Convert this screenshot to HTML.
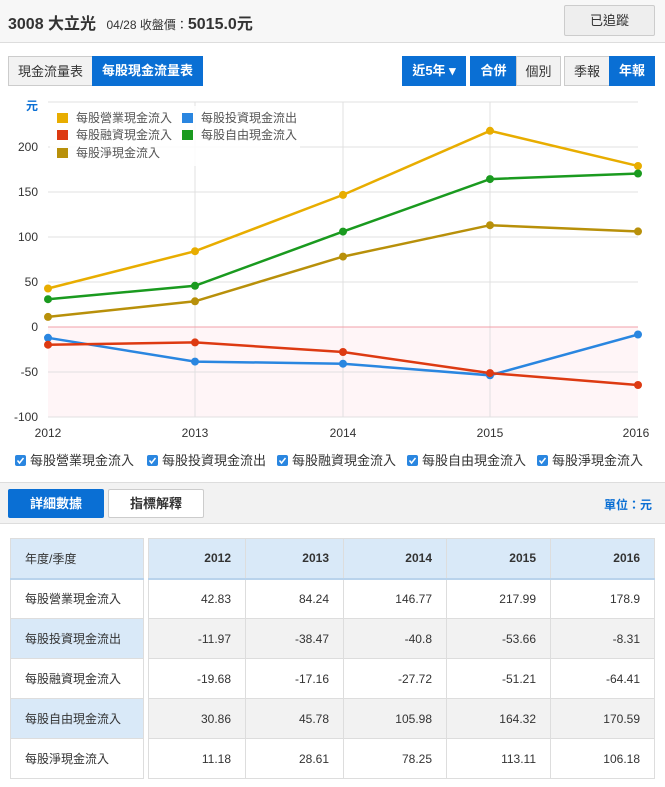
<!DOCTYPE html>
<html><head><meta charset="utf-8"><style>
*{margin:0;padding:0;box-sizing:border-box}
body{width:665px;height:787px;background:#fff;font-family:"Liberation Sans","Noto Sans CJK TC",sans-serif;color:#333;position:relative;overflow:hidden}
.a{position:absolute}
.btn{position:absolute;font-size:13px;text-align:center;line-height:29px;font-weight:bold}
.bl{background:#0a6fd4;color:#fff}
.gr{background:#f2f2f2;color:#333;border:1px solid #ccc}
table{position:absolute;border-collapse:collapse;font-size:12px}
td{border:1px solid #ddd;height:40px;text-align:right;padding-right:14px}
</style></head><body>
<div class="a" style="left:0;top:0;width:665px;height:43px;background:#f7f7f7;border-bottom:1px solid #ddd"></div>
<div class="a" style="left:8px;top:10px;font-size:16px;font-weight:bold;color:#333">3008 大立光 <span style="font-size:12px;font-weight:normal;margin-left:6px">04/28 收盤價：</span><span style="font-size:16px">5015.0元</span></div>
<div class="btn" style="left:564px;top:5px;width:91px;height:31px;background:#eee;border:1px solid #ccc;border-radius:2px;font-weight:normal;color:#333">已追蹤</div>
<div class="btn gr" style="left:8px;top:56px;width:85px;height:30px;font-weight:normal">現金流量表</div>
<div class="btn bl" style="left:92px;top:56px;width:111px;height:30px">每股現金流量表</div>
<div class="btn bl" style="left:402px;top:56px;width:64px;height:30px">近5年 ▾</div>
<div class="btn bl" style="left:470px;top:56px;width:47px;height:30px">合併</div>
<div class="btn gr" style="left:516px;top:56px;width:45px;height:30px;font-weight:normal">個別</div>
<div class="btn gr" style="left:564px;top:56px;width:46px;height:30px;font-weight:normal">季報</div>
<div class="btn bl" style="left:609px;top:56px;width:46px;height:30px">年報</div>
<svg class="a" style="left:0;top:0" width="665" height="480" font-family="Liberation Sans, Noto Sans CJK TC, sans-serif">
<rect x="48" y="327" width="590" height="90" fill="#fff5f7"/>
<g stroke="#e0e0e0" stroke-width="1">
<line x1="48" y1="102" x2="638" y2="102"/><line x1="48" y1="147" x2="638" y2="147"/><line x1="48" y1="192" x2="638" y2="192"/><line x1="48" y1="237" x2="638" y2="237"/><line x1="48" y1="282" x2="638" y2="282"/><line x1="48" y1="372" x2="638" y2="372"/><line x1="48" y1="417" x2="638" y2="417"/>
<line x1="195" y1="102" x2="195" y2="417"/><line x1="343" y1="102" x2="343" y2="417"/><line x1="490" y1="102" x2="490" y2="417"/>
</g>
<line x1="48" y1="327" x2="638" y2="327" stroke="#f0a0a8"/>
<g font-size="12" fill="#333" text-anchor="end">
<text x="38" y="151">200</text><text x="38" y="196">150</text><text x="38" y="241">100</text><text x="38" y="286">50</text><text x="38" y="331">0</text><text x="38" y="376">-50</text><text x="38" y="421">-100</text></g>
<text x="26" y="110" font-size="12" fill="#0a6fd4" font-weight="bold">元</text>
<g font-size="12" fill="#333" text-anchor="middle"><text x="48" y="437">2012</text><text x="195" y="437">2013</text><text x="343" y="437">2014</text><text x="490" y="437">2015</text><text x="636" y="437">2016</text></g>
<g fill="none" stroke-width="2.5">
<polyline stroke="#e8ad00" points="48,288.5 195,251.2 343,194.9 490,130.8 638,166"/>
<polyline stroke="#2a86e0" points="48,337.8 195,361.6 343,363.7 490,375.3 638,334.5"/>
<polyline stroke="#dd3a12" points="48,344.7 195,342.4 343,352 490,373.1 638,385"/>
<polyline stroke="#1a9a1f" points="48,299.2 195,285.8 343,231.6 490,179.1 638,173.5"/>
<polyline stroke="#b8900a" points="48,316.9 195,301.3 343,256.6 490,225.2 638,231.4"/>
</g>
<g fill="#e8ad00"><circle cx="48" cy="288.5" r="4"/><circle cx="195" cy="251.2" r="4"/><circle cx="343" cy="194.9" r="4"/><circle cx="490" cy="130.8" r="4"/><circle cx="638" cy="166" r="4"/></g>
<g fill="#2a86e0"><circle cx="48" cy="337.8" r="4"/><circle cx="195" cy="361.6" r="4"/><circle cx="343" cy="363.7" r="4"/><circle cx="490" cy="375.3" r="4"/><circle cx="638" cy="334.5" r="4"/></g>
<g fill="#dd3a12"><circle cx="48" cy="344.7" r="4"/><circle cx="195" cy="342.4" r="4"/><circle cx="343" cy="352" r="4"/><circle cx="490" cy="373.1" r="4"/><circle cx="638" cy="385" r="4"/></g>
<g fill="#1a9a1f"><circle cx="48" cy="299.2" r="4"/><circle cx="195" cy="285.8" r="4"/><circle cx="343" cy="231.6" r="4"/><circle cx="490" cy="179.1" r="4"/><circle cx="638" cy="173.5" r="4"/></g>
<g fill="#b8900a"><circle cx="48" cy="316.9" r="4"/><circle cx="195" cy="301.3" r="4"/><circle cx="343" cy="256.6" r="4"/><circle cx="490" cy="225.2" r="4"/><circle cx="638" cy="231.4" r="4"/></g>
<rect x="50" y="106" width="250" height="60" fill="#fff" opacity="0.85"/>
<g font-size="12" fill="#555">
<rect x="57" y="113" width="11" height="10" fill="#e8ad00"/><text x="76" y="122">每股營業現金流入</text>
<rect x="182" y="113" width="11" height="10" fill="#2a86e0"/><text x="201" y="122">每股投資現金流出</text>
<rect x="57" y="130" width="11" height="10" fill="#dd3a12"/><text x="76" y="139">每股融資現金流入</text>
<rect x="182" y="130" width="11" height="10" fill="#1a9a1f"/><text x="201" y="139">每股自由現金流入</text>
<rect x="57" y="148" width="11" height="10" fill="#b8900a"/><text x="76" y="157">每股淨現金流入</text>
</g>
<g font-size="13" fill="#333">
<rect x="15" y="455" width="11" height="11" rx="2" fill="#2a86e0"/><text x="30" y="465">每股營業現金流入</text>
<rect x="147" y="455" width="11" height="11" rx="2" fill="#2a86e0"/><text x="162" y="465">每股投資現金流出</text>
<rect x="277" y="455" width="11" height="11" rx="2" fill="#2a86e0"/><text x="292" y="465">每股融資現金流入</text>
<rect x="407" y="455" width="11" height="11" rx="2" fill="#2a86e0"/><text x="422" y="465">每股自由現金流入</text>
<rect x="537" y="455" width="11" height="11" rx="2" fill="#2a86e0"/><text x="552" y="465">每股淨現金流入</text>
</g>
<g stroke="#fff" stroke-width="1.5" fill="none"><polyline points="17.5,460.5 19.5,463 23.5,458"/><polyline points="149.5,460.5 151.5,463 155.5,458"/><polyline points="279.5,460.5 281.5,463 285.5,458"/><polyline points="409.5,460.5 411.5,463 415.5,458"/><polyline points="539.5,460.5 541.5,463 545.5,458"/></g>
</svg>
<div class="a" style="left:0;top:482px;width:665px;height:42px;background:#f2f2f2;border-top:1px solid #ddd;border-bottom:1px solid #ddd"></div>
<div class="btn bl" style="left:8px;top:489px;width:96px;height:29px;border-radius:2px">詳細數據</div>
<div class="btn" style="left:108px;top:489px;width:96px;height:29px;background:#fff;border:1px solid #ccc;border-radius:2px;color:#333;line-height:27px">指標解釋</div>
<div class="a" style="left:604px;top:496px;font-size:12px;color:#0a6fd4;font-weight:bold">單位：元</div>
<table style="left:10px;top:538px;width:134px">
<tr><td style="background:#d9e9f8;text-align:left;padding-left:14px;border-bottom:2px solid #b9d3ec">年度/季度</td></tr>
<tr><td style="text-align:left;padding-left:14px">每股營業現金流入</td></tr>
<tr><td style="background:#d9e9f8;text-align:left;padding-left:14px">每股投資現金流出</td></tr>
<tr><td style="text-align:left;padding-left:14px">每股融資現金流入</td></tr>
<tr><td style="background:#d9e9f8;text-align:left;padding-left:14px">每股自由現金流入</td></tr>
<tr><td style="text-align:left;padding-left:14px">每股淨現金流入</td></tr>
</table>
<table style="left:148px;top:538px;width:507px">
<tr style="background:#d9e9f8;font-weight:bold"><td style="width:97px;border-bottom:2px solid #b9d3ec">2012</td><td style="width:98px;border-bottom:2px solid #b9d3ec">2013</td><td style="width:103px;border-bottom:2px solid #b9d3ec">2014</td><td style="width:104px;border-bottom:2px solid #b9d3ec">2015</td><td style="border-bottom:2px solid #b9d3ec">2016</td></tr>
<tr><td>42.83</td><td>84.24</td><td>146.77</td><td>217.99</td><td>178.9</td></tr>
<tr style="background:#f2f2f2"><td>-11.97</td><td>-38.47</td><td>-40.8</td><td>-53.66</td><td>-8.31</td></tr>
<tr><td>-19.68</td><td>-17.16</td><td>-27.72</td><td>-51.21</td><td>-64.41</td></tr>
<tr style="background:#f2f2f2"><td>30.86</td><td>45.78</td><td>105.98</td><td>164.32</td><td>170.59</td></tr>
<tr><td>11.18</td><td>28.61</td><td>78.25</td><td>113.11</td><td>106.18</td></tr>
</table>
</body></html>
